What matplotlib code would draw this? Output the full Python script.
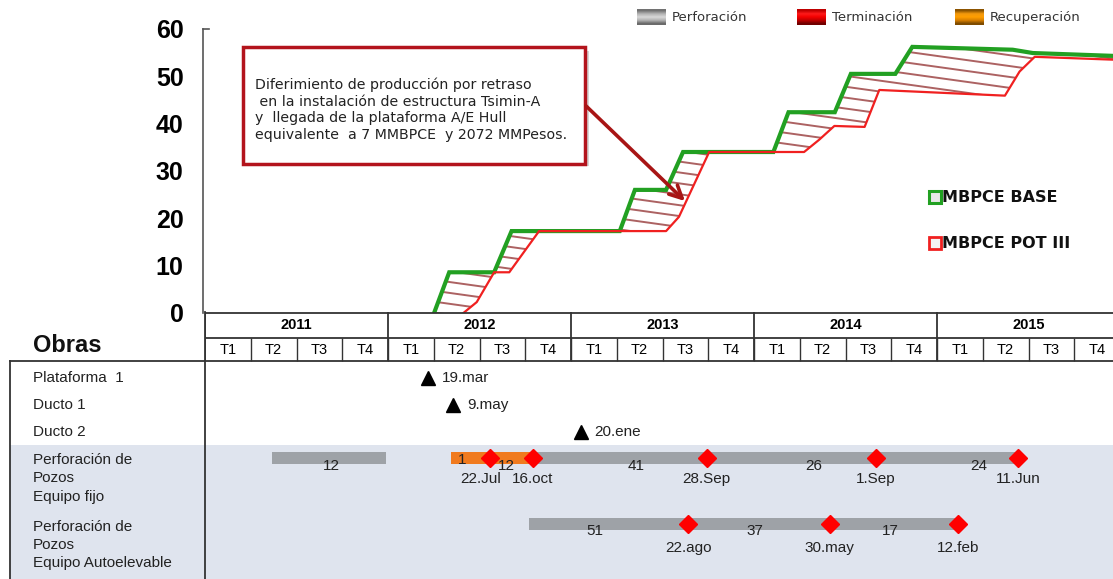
import numpy as np
import matplotlib.pyplot as plt
from matplotlib.patches import Rectangle
from matplotlib.collections import LineCollection
from matplotlib.path import Path

# production curves (x in quarters counted from 2011 T1, y in MBPCE)
green_x = [5.04, 5.37, 6.35, 6.73, 9.09, 9.42, 10.1, 10.47, 12.44, 12.77, 13.78, 14.13, 15.1, 15.47, 17.66, 18.1, 19.85]
green_y = [0, 8.6, 8.6, 17.3, 17.3, 26.0, 26.0, 34.0, 34.0, 42.4, 42.4, 50.5, 50.5, 56.2, 55.6, 54.9, 54.3]
red_x = [5.68, 5.97, 6.35, 6.68, 7.33, 10.1, 10.38, 11.04, 13.11, 13.44, 13.77, 14.43, 14.75, 17.49, 17.81, 18.14, 19.85]
red_y = [0, 2.3, 8.6, 8.6, 17.3, 17.3, 20.3, 34.0, 34.0, 36.6, 39.5, 39.3, 47.1, 45.9, 51.0, 54.1, 53.5]

years = ['2011', '2012', '2013', '2014', '2015']
quarters = ['T1', 'T2', 'T3', 'T4']
y_ticks = [0, 10, 20, 30, 40, 50, 60]

note = ['Diferimiento de producción por retraso',
        ' en la instalación de estructura Tsimin-A',
        'y  llegada de la plataforma A/E Hull',
        'equivalente  a 7 MMBPCE  y 2072 MMPesos.']

row_labels = ['Plataforma  1', 'Ducto 1', 'Ducto 2',
              'Perforación de\nPozos\nEquipo fijo',
              'Perforación de\nPozos\nEquipo Autoelevable']

# milestones (triangles)
hitos = [(2012, 3, 19), (2012, 5, 9), (2013, 1, 20)]
hitos_lbl = ['19.mar', '9.may', '20.ene']

# Equipo fijo
fijo_gray = [((2011, 5, 12), (2011, 12, 28)), ((2012, 10, 10), (2015, 6, 11))]
fijo_orange = [((2012, 5, 5), (2012, 10, 16))]
fijo_dates = [(2012, 7, 22), (2012, 10, 16), (2013, 9, 28), (2014, 9, 1), (2015, 6, 11)]
fijo_dlbl = ['22.Jul', '16.oct', '28.Sep', '1.Sep', '11.Jun']
fijo_counts = ['12', '1', '12', '41', '26', '24']
fijo_cpos = [2.77, 5.62, 6.59, 9.42, 13.3, 16.92]

# Equipo autoelevable
auto_gray = [((2012, 10, 8), (2015, 2, 12))]
auto_dates = [(2013, 8, 22), (2014, 5, 30), (2015, 2, 12)]
auto_dlbl = ['22.ago', '30.may', '12.feb']
auto_counts = ['51', '37', '17']
auto_cpos = [8.52, 12.03, 14.97]


def q(d):
    y, m, dd = d
    return (y - 2011) * 4 + (m - 1 + (dd - 1) / 30.0) / 3.0


W, H = 1113, 579
fig = plt.figure(figsize=(W / 100, H / 100), dpi=100)
SANS = ['Liberation Sans', 'DejaVu Sans']
TXT = '#222222'

bg = fig.add_axes([0, 0, 1, 1])
bg.set_xlim(0, W)
bg.set_ylim(H, 0)
bg.axis('off')

# shaded rows and left column frame
bg.add_patch(Rectangle((10, 445), W - 10, H - 445, fc='#dfe4ee', ec='none'))
bg.plot([10, W], [361, 361], color='#333333', lw=1.3)
bg.plot([10, 10], [361, H], color='#333333', lw=1.3)
bg.plot([205, 205], [312, H], color='#333333', lw=1.3)
bg.text(33, 345, 'Obras', fontsize=17, fontweight='bold', family=SANS, va='center', color='#111111')
row_y = [378, 405, 432, 478.5, 545]
for lbl, yy in zip(row_labels, row_y):
    bg.text(33, yy, lbl, fontsize=11, family=SANS, va='center', color=TXT, linespacing=1.38)

# chart
ax = fig.add_axes([203 / W, (H - 313) / H, 917 / W, 313 / H])
ax.patch.set_alpha(0)
ax.set_xlim(0, 20)
ax.set_ylim(0, 66.1)
for s in ['top', 'right', 'bottom']:
    ax.spines[s].set_visible(False)
ax.spines['left'].set_color('#555555')
ax.spines['left'].set_linewidth(1.2)
ax.spines['left'].set_bounds(0, 60)
ax.plot([0, 0.13], [60, 60], color='#555555', lw=1.2, clip_on=False)
ax.set_xticks([])
ax.set_yticks(y_ticks)
ax.set_yticklabels([str(v) for v in y_ticks], fontsize=18, fontweight='bold', family=SANS)
ax.tick_params(axis='y', length=0, pad=14)

xs = np.linspace(5.0, 19.85, 3000)
g = np.interp(xs, green_x, green_y, left=0)
r = np.interp(xs, red_x, red_y, left=0)
fb = ax.fill_between(xs, r, g, where=g > r + 0.1, facecolor='none', edgecolor='none')
clip = Path.make_compound_path(*fb.get_paths())
segs = [[(0, c), (20, c - 1.35 * 20)] for c in np.arange(0, 110, 2.3)]
lc = LineCollection(segs, colors='#9e4646', linewidths=1.4, alpha=0.85)
ax.add_collection(lc)
lc.set_clip_path(clip, ax.transData)

ax.plot(green_x, green_y, color='#22a022', lw=3, solid_joinstyle='miter')
ax.plot(red_x, red_y, color='#f02020', lw=1.6)

# gantt / header
gt = fig.add_axes([205 / W, 0, 915 / W, (H - 312) / H])
gt.patch.set_alpha(0)
gt.set_xlim(0, 20)
gt.set_ylim(H, 312)
gt.axis('off')
gt.hlines([312.5, 338], 0, 20, color='#333333', lw=1.3)
gt.vlines([0, 4, 8, 12, 16, 20], 312, 361, color='#333333', lw=1.3)
gt.vlines(range(1, 20), 338, 361, color='#333333', lw=1.0)
for i, yl in enumerate(years):
    gt.text(i * 4 + 2, 325, yl, ha='center', va='center', fontsize=10.5, fontweight='bold', family=SANS)
    for j, ql in enumerate(quarters):
        gt.text(i * 4 + j + 0.5, 350, ql, ha='center', va='center', fontsize=10.5, family=SANS)

for d, lbl, yy in zip(hitos, hitos_lbl, row_y[:3]):
    gt.plot(q(d), yy, marker='^', ms=10, color='black', clip_on=False)
    gt.annotate(lbl, (q(d), yy), xytext=(10, 0), textcoords='offset points',
                va='center', fontsize=11, family=SANS, color=TXT)

bar_gray = '#9ea2a7'
fy, ay = 458, 524
for a, b in fijo_gray:
    gt.barh(fy, q(b) - q(a), left=q(a), height=12, color=bar_gray)
for a, b in fijo_orange:
    gt.barh(fy, q(b) - q(a), left=q(a), height=12, color='#f07a1e')
for a, b in auto_gray:
    gt.barh(ay, q(b) - q(a), left=q(a), height=12, color=bar_gray)

fx = [q(d) for d in fijo_dates]
gt.plot(fx, [fy] * len(fx), 'D', color='#ff0000', ms=9, clip_on=False)
dx = {'22.Jul': -7}
for x, lbl in zip(fx, fijo_dlbl):
    gt.annotate(lbl, (x, fy), xytext=(dx.get(lbl, 0), -15), textcoords='offset points',
                ha='center', va='center', fontsize=11, family=SANS, color=TXT)
for x, lbl in zip(fijo_cpos, fijo_counts):
    off = 2 if lbl == '1' else 8
    gt.text(x, fy + off, lbl, ha='center', va='center', fontsize=11, family=SANS, color=TXT)

axx = [q(d) for d in auto_dates]
gt.plot(axx, [ay] * len(axx), 'D', color='#ff0000', ms=9, clip_on=False)
for x, lbl in zip(axx, auto_dlbl):
    gt.annotate(lbl, (x, ay), xytext=(0, -17), textcoords='offset points',
                ha='center', va='center', fontsize=11, family=SANS, color=TXT)
for x, lbl in zip(auto_cpos, auto_counts):
    gt.text(x, ay + 7, lbl, ha='center', va='center', fontsize=11, family=SANS, color=TXT)

# overlay: note box, arrow, legends
ov = fig.add_axes([0, 0, 1, 1])
ov.patch.set_alpha(0)
ov.axis('off')


def grad(rows):
    return np.array(rows, dtype=float).reshape(-1, 1, 3)


boxes = [
    (637, 'Perforación', grad([[.45, .45, .45], [.7, .7, .7], [.85, .85, .85], [.7, .7, .7], [.42, .42, .42]])),
    (797, 'Terminación', grad([[.75, 0, 0], [1, .1, .1], [.95, 0, 0], [.75, 0, 0], [.45, 0, 0]])),
    (955, 'Recuperación', grad([[.55, .33, 0], [.95, .6, .05], [1, .62, 0], [.85, .5, 0], [.5, .3, 0]])),
]
for x0, lbl, img in boxes:
    ov.imshow(img, extent=(x0, x0 + 29, 25, 9), aspect='auto', interpolation='bilinear')
    ov.text(x0 + 35, 17.5, lbl, fontsize=9.5, va='center', color='#333333')

ov.add_patch(Rectangle((247, 51), 342, 115, fc='#d6d6d6', ec='none', zorder=3))
ov.add_patch(Rectangle((243, 47), 342, 117, fc='white', ec='#b3141c', lw=2.5, zorder=4))
for i, line in enumerate(note):
    ov.text(255, 85 + i * 16.5, line, fontsize=10.2, va='center', color=TXT, zorder=5)
ov.annotate('', xy=(687, 203), xytext=(584, 104),
            arrowprops=dict(arrowstyle='->,head_length=0.9,head_width=0.45', color='#a81515', lw=2.6),
            zorder=6)

ov.plot(935, 197, marker='s', ms=8, mfc='#e8e8e8', mec='#22a022', mew=2.2)
ov.text(942, 197, 'MBPCE BASE', fontsize=11.5, fontweight='bold', va='center', color='#111111')
ov.plot(935, 243, marker='s', ms=8, mfc='#f4f4f4', mec='#f02020', mew=2.0)
ov.text(942, 243, 'MBPCE POT III', fontsize=11.5, fontweight='bold', va='center', color='#111111')
ov.set_xlim(0, W)
ov.set_ylim(H, 0)

fig.savefig('out.png', dpi=100)
